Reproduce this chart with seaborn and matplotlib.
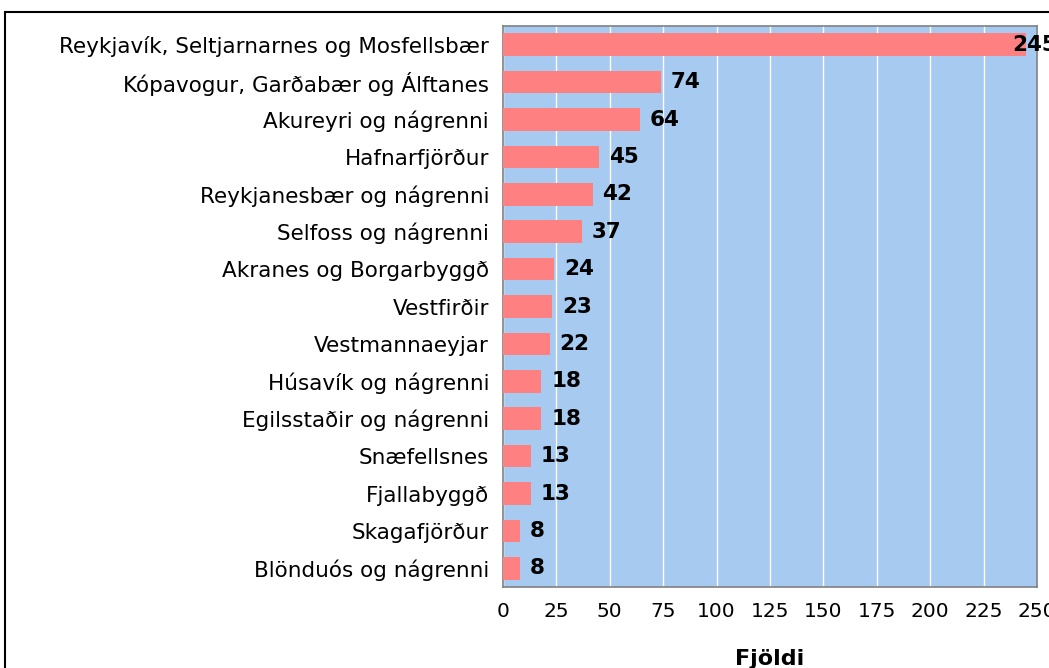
import matplotlib
matplotlib.use("Agg")
from matplotlib import pyplot as plt
from matplotlib.patches import Rectangle
from matplotlib.ticker import FixedLocator
import seaborn as sns
import pandas as pd

regions = [
    "Reykjavík, Seltjarnarnes og Mosfellsbær",
    "Kópavogur, Garðabær og Álftanes",
    "Akureyri og nágrenni",
    "Hafnarfjörður",
    "Reykjanesbær og nágrenni",
    "Selfoss og nágrenni",
    "Akranes og Borgarbyggð",
    "Vestfirðir",
    "Vestmannaeyjar",
    "Húsavík og nágrenni",
    "Egilsstaðir og nágrenni",
    "Snæfellsnes",
    "Fjallabyggð",
    "Skagafjörður",
    "Blönduós og nágrenni",
]
counts = [245, 74, 64, 45, 42, 37, 24, 23, 22, 18, 18, 13, 13, 8, 8]
x_ticks = [0, 25, 50, 75, 100, 125, 150, 175, 200, 225, 250]

df = pd.DataFrame({"Svæði": regions, "Fjöldi": counts})

sns.set_style("white")
plt.rcParams["font.family"] = ["DejaVu Sans"]
plt.rcParams["text.color"] = "black"
plt.rcParams["xtick.color"] = "black"
plt.rcParams["ytick.color"] = "black"
plt.rcParams["axes.labelcolor"] = "black"

W, H = 1049, 668
fig = plt.figure(figsize=(W / 100, H / 100), dpi=100)
ax = fig.add_axes([503 / W, (H - 587) / H, (1037 - 503) / W, (587 - 26) / H])

sns.barplot(
    data=df, x="Fjöldi", y="Svæði", orient="h",
    color="#FF8080", saturation=1, width=0.6, linewidth=0, ax=ax, zorder=3,
)

ax.set_facecolor("#A6CAF0")
ax.set_xlim(0, 250)
ax.set_ylim(len(regions) - 0.5, -0.5)
ax.set_xticks(x_ticks)
ax.xaxis.grid(True, color="white", linewidth=1, zorder=0)
ax.set_axisbelow(True)
for s in ax.spines.values():
    s.set_color("#808080")
    s.set_linewidth(1.2)

ax.tick_params(axis="x", direction="out", length=5, width=1, color="#404040",
               labelsize=14.5, pad=6)
ax.tick_params(axis="y", which="major", length=0, labelsize=15.5, pad=10)
ax.yaxis.set_minor_locator(FixedLocator([i - 0.5 for i in range(len(regions) + 1)]))
ax.tick_params(axis="y", which="minor", direction="out", length=5, width=1, color="#404040")

ax.set_ylabel("")
ax.set_xlabel("Fjöldi", fontsize=16, fontweight="bold", labelpad=20)

for i, v in enumerate(counts):
    dx = 7 if v < 240 else -10
    ax.annotate(str(v), (v, i), xytext=(dx, 0), textcoords="offset points",
                ha="left", va="center", fontsize=15.5, fontweight="bold",
                annotation_clip=False, zorder=5)

fig.patches.append(Rectangle((5 / W, -0.2), 1.2, (H - 12) / H + 0.2,
                             transform=fig.transFigure, fill=False,
                             edgecolor="black", linewidth=1.5))

fig.savefig("out.png", dpi=100)
